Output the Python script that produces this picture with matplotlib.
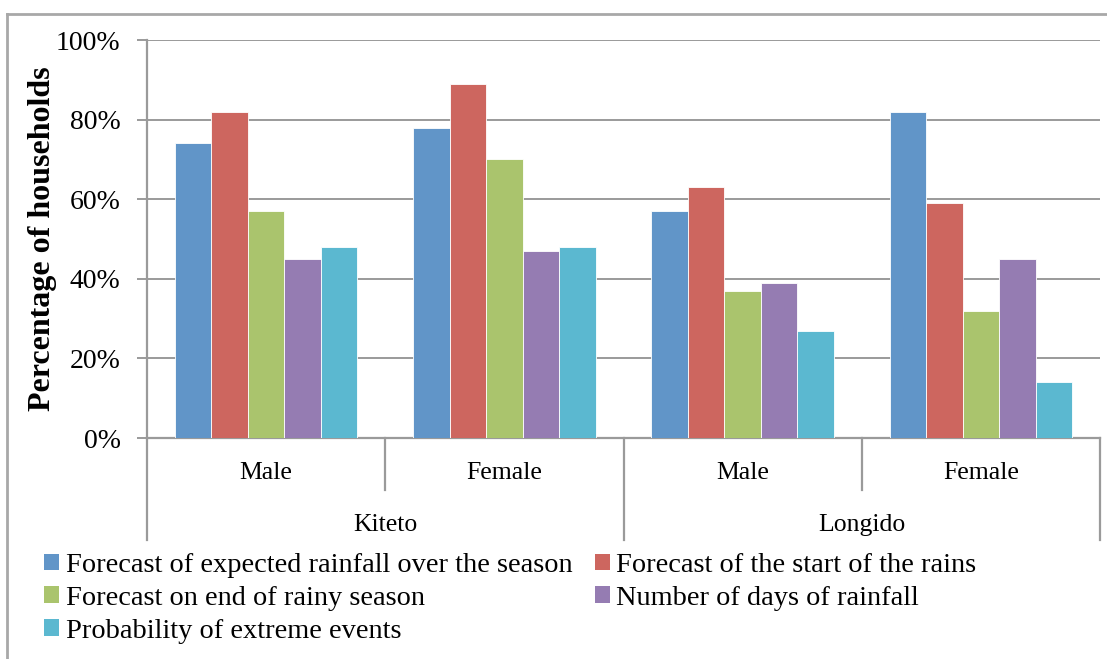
import numpy as np
import matplotlib
matplotlib.use("Agg")
import matplotlib.pyplot as plt
from matplotlib.patches import Patch
from matplotlib.lines import Line2D
import matplotlib.transforms as mtransforms

# data
districts = ["Kiteto", "Longido"]
genders = ["Male", "Female", "Male", "Female"]
series_names = [
    "Forecast of expected rainfall over the season",
    "Forecast of the start of the rains",
    "Forecast on end of rainy season",
    "Number of days of rainfall",
    "Probability of extreme events",
]
rainfall_season = [74, 78, 57, 82]
start_rains = [82, 89, 63, 59]
end_rainy = [57, 70, 37, 32]
days_rainfall = [45, 47, 39, 45]
extreme_events = [48, 48, 27, 14]
yticks = [0, 20, 40, 60, 80, 100]

colors = ["#6195C8", "#CD665F", "#AAC46D", "#957CB2", "#5BB8D0"]
grey = "#9a9a9a"
serif = "Liberation Serif"

fig = plt.figure(figsize=(11.07, 6.59), dpi=100)
ax = fig.add_axes([147/1107, 221/659, 953/1107, 398/659])

values = [rainfall_season, start_rains, end_rainy, days_rainfall, extreme_events]
x = np.arange(len(genders))
w = 0.153
handles = []
for i, (vals, col, name) in enumerate(zip(values, colors, series_names)):
    ax.bar(x + (i - 2) * w, np.array(vals) / 100.0, width=w, color=col,
           edgecolor="white", linewidth=0.6, zorder=3)
    handles.append(Patch(facecolor=col, edgecolor="none", label=name))

ax.set_xlim(-0.5, 3.5)
ax.set_ylim(0, 1)
ax.set_yticks([t / 100 for t in yticks])
ax.set_yticklabels([f"{t}%" for t in yticks], fontfamily=serif, fontsize=20)
ax.yaxis.grid(True, color=grey, linewidth=1.4, zorder=0)
ax.tick_params(axis="y", length=7, width=1.4, color=grey, pad=12)
ax.set_xticks([])
for s in ["top", "right"]:
    ax.spines[s].set_visible(False)
for s in ["left", "bottom"]:
    ax.spines[s].set_color(grey)
    ax.spines[s].set_linewidth(1.6)

ax.set_ylabel("Percentage of households", fontfamily=serif,
              fontweight="bold", fontsize=23)
ax.yaxis.set_label_coords(-0.094, 0.5)

# category separators below axis
trans = mtransforms.blended_transform_factory(ax.transData, ax.transAxes)
for xb in [-0.5, 1.5, 3.5]:
    ax.plot([xb, xb], [0, -0.256], transform=trans, color=grey, lw=1.6, clip_on=False)
for xb in [0.5, 2.5]:
    ax.plot([xb, xb], [0, -0.131], transform=trans, color=grey, lw=1.6, clip_on=False)

for xi, g in zip(x, genders):
    ax.text(xi, -0.088, g, transform=trans, ha="center", va="center",
            fontfamily=serif, fontsize=18.5)
for xi, d in zip([0.5, 2.5], districts):
    ax.text(xi, -0.219, d, transform=trans, ha="center", va="center",
            fontfamily=serif, fontsize=18.5)

# outer chart border
fig.add_artist(Line2D([7/1107, 7/1107], [0, 1 - 14/659], color="#a8a8a8", lw=2))
fig.add_artist(Line2D([7/1107, 1], [1 - 14/659, 1 - 14/659], color="#a8a8a8", lw=2))

order = [0, 2, 4, 1, 3]
fig.legend([handles[i] for i in order], [series_names[i] for i in order],
           ncol=2, loc="upper left", bbox_to_anchor=(44/1107, 1 - 553/659),
           frameon=False, prop={"family": serif, "size": 20.4},
           handlelength=0.54, handleheight=0.54, handletextpad=0.22,
           labelspacing=0.28, columnspacing=0.8, borderpad=0, borderaxespad=0)

fig.savefig("out.png", dpi=100)
